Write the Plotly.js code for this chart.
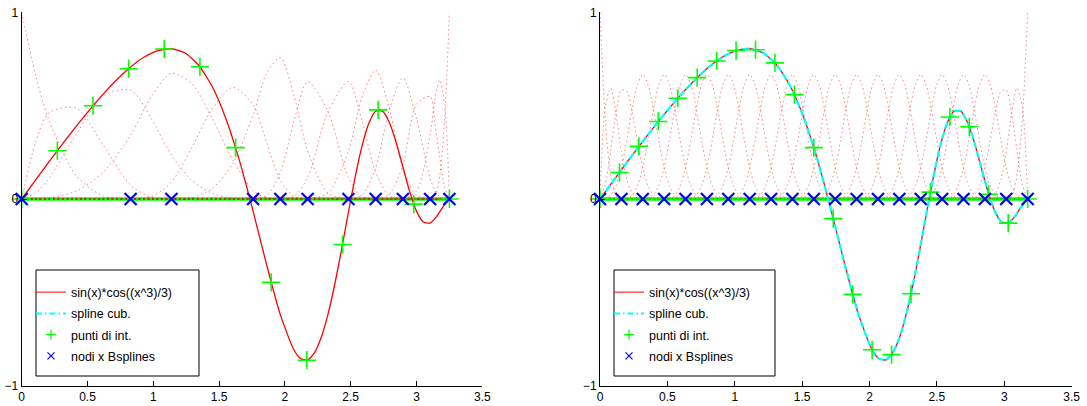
<!DOCTYPE html>
<html><head><meta charset="utf-8">
<script src="https://cdn.plot.ly/plotly-3.0.1.min.js"></script>
<style>html,body{margin:0;padding:0;background:#fff;}#chart{width:1087px;height:406px;}</style>
</head><body><div id="chart"></div>
<script>
// ---------- data (x values as read on each panel's axis) ----------
const funcY = [0,0.0998,0.1987,0.2955,0.3893,0.4790,0.5632,0.6400,0.7069,0.7603,0.7952,0.8049,0.7817,0.7165,0.6012,0.4301,0.2039,-0.0663,-0.3551,-0.6208,-0.8087,
  -0.8552,-0.8619,-0.8247,-0.7422,-0.6169,-0.4553,-0.2681,-0.0704,0.1202,0.2848,0.4057,0.4697,0.4705,0.4110,0.3040,0.1713,0.0394,-0.0651,-0.1232,-0.1286,-0.0914,-0.0364,0];
const funcXL = [0,0.1035,0.2069,0.3104,0.4138,0.5173,0.6207,0.7242,0.8276,0.9311,1.0345,1.1380,1.2414,1.3449,1.4483,1.5518,1.6552,1.7587,1.8621,1.9656,2.0690,
  2.1207,2.1725,2.2242,2.2759,2.3276,2.3794,2.4311,2.4828,2.5345,2.5863,2.6380,2.6897,2.7414,2.7932,2.8449,2.8966,2.9483,3.0001,3.0518,3.1035,3.1552,3.2070,3.2500];
const funcXR = [0,0.1010,0.2020,0.3030,0.4040,0.5050,0.6060,0.7070,0.8080,0.9090,1.0100,1.1110,1.2120,1.3130,1.4140,1.5150,1.6160,1.7170,1.8180,1.9190,2.0200,
  2.0705,2.1210,2.1715,2.2220,2.2725,2.3230,2.3735,2.4240,2.4745,2.5250,2.5755,2.6260,2.6765,2.7270,2.7775,2.8280,2.8785,2.9290,2.9795,3.0300,3.0805,3.1310,3.1730];
const splineYR = funcY;

const ptsXL = [0,0.2708,0.5417,0.8125,1.0834,1.3542,1.6250,1.8959,2.1667,2.4376,2.7084,2.9792,3.2500];
const ptsYL = [0,0.2588,0.4994,0.6979,0.8034,0.7083,0.2753,-0.4467,-0.8633,-0.2439,0.4774,-0.0276,0];
const ptsXR = [0,0.1442,0.2885,0.4327,0.5769,0.7211,0.8654,1.0096,1.1538,1.2980,1.4423,1.5865,1.7307,1.8750,2.0192,2.1634,2.3076,2.4519,2.5961,2.7403,2.8845,3.0288,3.1730];
const ptsYR = [0,0.1423,0.2817,0.4153,0.5396,0.6500,0.7392,0.7950,0.7996,0.7291,0.5590,0.2753,-0.1052,-0.5111,-0.8076,-0.8337,-0.5077,0.0369,0.4393,0.3866,0.0250,-0.1290,0];

const knotsL = [0,0.8276,1.1380,1.7587,1.9656,2.1725,2.4828,2.6897,2.8966,3.1035,3.2500];
const knotsR = [0,0.1587,0.3173,0.4760,0.6346,0.7933,0.9519,1.1106,1.2692,1.4279,1.5865,1.7452,1.9038,2.0625,2.2211,2.3798,2.5384,2.6971,2.8557,3.0144,3.1730];

// left B-spline basis (dotted), sampled on gridL
const gridL = [0,0.1035,0.2069,0.4138,0.6207,0.8276,0.9828,1.1380,1.2931,1.4483,1.6035,1.7587,1.8621,1.9656,2.0690,2.1725,2.3276,2.4828,2.5863,2.6897,2.7932,2.8966,3.0001,3.1035,3.1401,3.1767,3.2134,3.2500];
const bL0  = [1,0.6699,0.4219,0.125,0.0156,0,0,0,0,0,0,0,0,0,0,0,0,0,0,0,0,0,0,0,0,0,0,0];
const bL1  = [0,0.2984,0.4614,0.4866,0.2871,0.0744,0.0093,0,0,0,0,0,0,0,0,0,0,0,0,0,0,0,0,0,0,0,0,0];
const bL2  = [0,0.0310,0.1114,0.3457,0.5529,0.5834,0.4332,0.2353,0.0993,0.0294,0.0037,0,0,0,0,0,0,0,0,0,0,0,0,0,0,0,0,0];
const bL3  = [0,0.0007,0.0054,0.0428,0.1444,0.3423,0.5461,0.6738,0.6174,0.4308,0.2087,0.0455,0.0057,0,0,0,0,0,0,0,0,0,0,0,0,0,0,0];
const bL4  = [0,0,0,0,0,0,0.0114,0.0909,0.2764,0.4835,0.5978,0.5046,0.3006,0.1,0.0125,0,0,0,0,0,0,0,0,0,0,0,0,0];
const bL5  = [0,0,0,0,0,0,0,0,0.0070,0.0563,0.1899,0.45,0.6759,0.7571,0.5554,0.2571,0.0321,0,0,0,0,0,0,0,0,0,0,0];
const bL6  = [0,0,0,0,0,0,0,0,0,0,0,0,0.0179,0.1429,0.4179,0.6286,0.4679,0.1143,0.0143,0,0,0,0,0,0,0,0,0];
const bL7  = [0,0,0,0,0,0,0,0,0,0,0,0,0,0,0.0143,0.1143,0.4679,0.6286,0.4179,0.1429,0.0179,0,0,0,0,0,0,0];
const bL8  = [0,0,0,0,0,0,0,0,0,0,0,0,0,0,0,0,0.0321,0.2571,0.5470,0.6905,0.4821,0.1667,0.0208,0,0,0,0,0];
const bL9  = [0,0,0,0,0,0,0,0,0,0,0,0,0,0,0,0,0,0,0.0208,0.1667,0.4769,0.6487,0.4292,0.1084,0.0457,0.0135,0.0017,0];
const bL10 = [0,0,0,0,0,0,0,0,0,0,0,0,0,0,0,0,0,0,0,0,0.0231,0.1846,0.5071,0.5488,0.4064,0.2240,0.0669,0];
const bL11 = [0,0,0,0,0,0,0,0,0,0,0,0,0,0,0,0,0,0,0,0,0,0,0.0429,0.3428,0.5323,0.6374,0.5096,0];
const bL12 = [0,0,0,0,0,0,0,0,0,0,0,0,0,0,0,0,0,0,0,0,0,0,0,0,0.0156,0.125,0.4219,1];
const basisL = [bL0,bL1,bL2,bL3,bL4,bL5,bL6,bL7,bL8,bL9,bL10,bL11,bL12];

// right B-spline basis (uniform knots), sampled at quarter-knot positions
const gridR = [0,0.0397,0.0793,0.1190,0.1587,0.1983,0.2380,0.2776,0.3173,0.3570,0.3966,0.4363,0.4760,0.5156,0.5553,0.5949,0.6346,0.6743,0.7139,0.7536,
  0.7933,0.8329,0.8726,0.9122,0.9519,0.9916,1.0312,1.0709,1.1106,1.1502,1.1899,1.2295,1.2692,1.3089,1.3485,1.3882,1.4279,1.4675,1.5072,1.5468,
  1.5865,1.6262,1.6658,1.7055,1.7452,1.7848,1.8245,1.8641,1.9038,1.9435,1.9831,2.0228,2.0625,2.1021,2.1418,2.1814,2.2211,2.2608,2.3004,2.3401,
  2.3798,2.4194,2.4591,2.4987,2.5384,2.5781,2.6177,2.6574,2.6971,2.7367,2.7764,2.8160,2.8557,2.8954,2.9350,2.9747,3.0144,3.0540,3.0937,3.1333,3.1730];
const bEdge0 = [1,0.4219,0.125,0.0156,0];
const bEdge1 = [0,0.4961,0.5938,0.4570,0.25,0.1055,0.0313,0.0039,0];
const bEdge2 = [0,0.0794,0.2604,0.4570,0.5833,0.5768,0.4688,0.3138,0.1667,0.0703,0.0208,0.0026,0];
const bInner = [0,0.0026,0.0208,0.0703,0.1667,0.3151,0.4792,0.6120,0.6667,0.6120,0.4792,0.3151,0.1667,0.0703,0.0208,0.0026,0];

const xTicks = [0,0.5,1,1.5,2,2.5,3,3.5];
const xTickText = ['0','0.5','1','1.5','2','2.5','3','3.5'];
const yTicks = [-1,0,1];
const yTickText = ['\u22121','0','1'];
const legendNames = ['sin(x)*cos((x^3)/3)','spline cub.','punti di int.','nodi x Bsplines'];

// ---------- styles ----------
const RED='#ff0000', GREEN='#00ff00', BLUE='#0000ff', CYAN='#00ffff';
const FONT='Liberation Sans, Arial, Helvetica, sans-serif';
const dotted = {color:'rgba(255,0,0,0.5)', width:1, dash:'1.5px,3px', shape:'spline', smoothing:0.8};

function panel(xa, ya, leg, funcX, knots, ptsX, ptsY, basisTraces, spline){
  const t = [];
  t.push({x:[knots[0], knots[knots.length-1]], y:[0,0], xaxis:xa, yaxis:ya, mode:'lines',
          line:{color:GREEN, width:3.5}, showlegend:false, hoverinfo:'skip'});
  basisTraces.forEach(b => t.push({x:b.x, y:b.y, xaxis:xa, yaxis:ya, mode:'lines', line:dotted, showlegend:false, hoverinfo:'skip'}));
  t.push({x:funcX, y:funcY, xaxis:xa, yaxis:ya, mode:'lines', line:{color:RED, width:1.3, shape:'spline', smoothing:0.6}, showlegend:false});
  if (spline) t.push({x:funcX, y:splineYR, xaxis:xa, yaxis:ya, mode:'lines', line:{color:CYAN, width:2.2, dash:'7px,3px', shape:'spline', smoothing:0.6}, showlegend:false});
  t.push({x:ptsX, y:ptsY, xaxis:xa, yaxis:ya, mode:'markers', cliponaxis:false,
          marker:{symbol:'cross-thin', size:13, color:GREEN, line:{color:GREEN, width:1.6}}, showlegend:false});
  t.push({x:knots, y:knots.map(()=>0), xaxis:xa, yaxis:ya, mode:'markers', cliponaxis:false,
          marker:{symbol:'x-thin', size:12, color:BLUE, line:{color:BLUE, width:2.2}}, showlegend:false});
  // legend-only entries
  const lg = [
    {mode:'lines', line:{color:RED, width:1}},
    {mode:'lines', line:{color:CYAN, width:2, dash:'6px,3px,1.5px,3px'}},
    {mode:'markers', marker:{symbol:'cross-thin', size:7, color:GREEN, line:{color:GREEN, width:1.2}}},
    {mode:'markers', marker:{symbol:'x-thin', size:7, color:BLUE, line:{color:BLUE, width:1.2}}}
  ];
  lg.forEach((s,i)=>t.push(Object.assign({x:[null], y:[null], xaxis:xa, yaxis:ya, name:legendNames[i], legend:leg, legendgroup:leg+i, showlegend:true}, s)));
  return t;
}

const basisTracesL = basisL.map(v => ({x:gridL, y:v}));
const basisTracesR = [];
basisTracesR.push({x:[gridR[0], gridR[80]], y:[0,0]});
basisTracesR.push({x:gridR.slice(0,5), y:bEdge0});
basisTracesR.push({x:gridR.slice(0,9), y:bEdge1});
basisTracesR.push({x:gridR.slice(0,13), y:bEdge2});
for (let i=3;i<=19;i++) basisTracesR.push({x:gridR.slice(4*(i-3), 4*(i-3)+17), y:bInner});
basisTracesR.push({x:gridR.slice(68,81), y:bEdge2.slice().reverse()});
basisTracesR.push({x:gridR.slice(72,81), y:bEdge1.slice().reverse()});
basisTracesR.push({x:gridR.slice(76,81), y:bEdge0.slice().reverse()});

const data = [].concat(
  panel('x','y','legend', funcXL, knotsL, ptsXL, ptsYL, basisTracesL, false),
  panel('x2','y2','legend2', funcXR, knotsR, ptsXR, ptsYR, basisTracesR, true)
);

const W=1087, H=406;
function xax(d0,d1,anchor){return {domain:[d0/W,d1/W], range:[0,3.5], tickvals:xTicks, ticktext:xTickText, ticks:'inside', ticklen:5, tickwidth:1, tickcolor:'#000',
  showline:true, linecolor:'#000', linewidth:1, showgrid:false, zeroline:false, anchor:anchor, fixedrange:true,
  tickfont:{family:FONT, size:12, color:'#000'}};}
function yax(anchor){return {domain:[(H-385.7)/H,(H-12.3)/H], range:[-1,1], tickvals:yTicks, ticktext:yTickText, ticks:'inside', ticklen:5, tickwidth:1, tickcolor:'#000',
  showline:true, linecolor:'#000', linewidth:1, showgrid:false, zeroline:false, anchor:anchor, fixedrange:true,
  tickfont:{family:FONT, size:12, color:'#000'}};}
function leg(xpx){return {x:xpx/W, y:(H-277.5)/H, xanchor:'left', yanchor:'top', bgcolor:'rgba(0,0,0,0)', borderwidth:0,
  font:{family:FONT, size:12.5, color:'#000'}, tracegroupgap:2, itemclick:false, itemdoubleclick:false};}
function box(x0,x1){return {type:'rect', xref:'paper', yref:'paper', x0:x0/W, x1:x1/W, y0:(H-376)/H, y1:(H-270)/H,
  line:{color:'#000', width:1}, fillcolor:'#fff', layer:'above'};}

const layout = {
  width:W, height:H, margin:{l:0,r:0,t:0,b:0}, paper_bgcolor:'#fff', plot_bgcolor:'#fff',
  xaxis: xax(21.7,482.3,'y'), yaxis: yax('x'),
  xaxis2: xax(600,1071.7,'y2'), yaxis2: yax('x2'),
  legend: leg(31), legend2: leg(609),
  shapes:[box(36,199), box(614,775)],
  hovermode:false
};
Plotly.newPlot('chart', data, layout, {staticPlot:true, displayModeBar:false});
</script></body></html>
